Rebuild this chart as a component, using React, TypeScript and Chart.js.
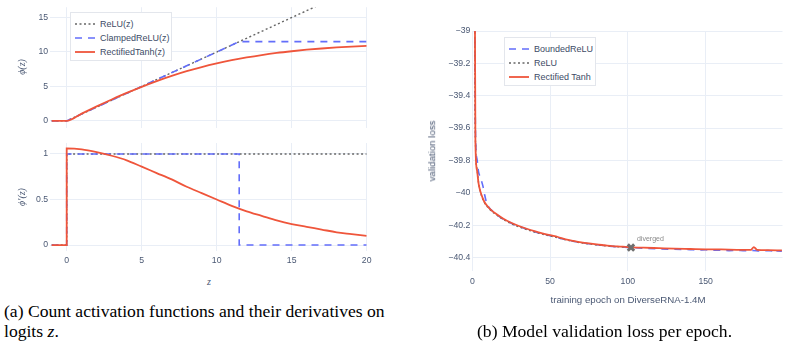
import React, { useEffect, useRef } from "react";
import { Chart, registerables } from "chart.js";

Chart.register(...registerables);

// ---------- (a) activation functions phi(z) ----------
const reluZ = [-1, 0, 20];
const reluPhi = [0, 0, 20];
const clampedZ = [-1, 0, 11.5, 20];
const clampedPhi = [0, 0, 11.5, 11.5];
const tanhZ = [-1, 0, 1, 2, 3, 4, 5, 6, 7, 8, 9, 10, 11, 12, 13, 14, 15, 16, 17, 18, 19, 20];
const tanhPhi = [0, 0, 1.06, 2.1, 3.1, 4.06, 4.95, 5.78, 6.53, 7.21, 7.81, 8.34, 8.81, 9.21, 9.56, 9.86, 10.11, 10.33, 10.51, 10.66, 10.79, 10.9];

// ---------- (a) derivatives phi'(z) ----------
const reluGradZ = [-1, 0, 0, 20];
const reluGrad = [0, 0, 1, 1];
const clampedGradZ = [-1, 0, 0, 11.5, 11.5, 20];
const clampedGrad = [0, 0, 1, 1, 0, 0];
const tanhGradZ = [-1, 0, 0, 1, 2, 3, 4, 5, 6, 7, 8, 9, 10, 11, 12, 13, 14, 15, 16, 17, 18, 19, 20];
const tanhGrad = [0, 0, 1.06, 1.05, 1.02, 0.98, 0.93, 0.86, 0.79, 0.72, 0.64, 0.57, 0.5, 0.43, 0.37, 0.32, 0.27, 0.23, 0.2, 0.17, 0.14, 0.12, 0.1];

const zTicks = [0, 5, 10, 15, 20];
const phiTicks = [0, 5, 10, 15];
const gradTicks = [0, 0.5, 1];

// ---------- (b) validation loss per epoch ----------
const epochsBounded = [1, 2, 3, 4, 5, 6, 7, 8, 9, 10, 12, 15, 20, 25, 30, 40, 50, 60, 70, 80, 90, 100, 110, 120, 130, 140, 145, 150, 155, 160, 165, 170, 175, 180, 185, 190, 193, 194, 196, 199];
const lossBounded = [-36.8, -39.6, -39.79, -39.87, -39.9, -39.93, -39.965, -40.015, -40.055, -40.08, -40.104, -40.13, -40.163, -40.188, -40.207, -40.24, -40.265, -40.289, -40.308, -40.321, -40.331, -40.337, -40.342, -40.346, -40.349, -40.351, -40.353, -40.352, -40.355, -40.354, -40.357, -40.355, -40.358, -40.356, -40.359, -40.357, -40.359, -40.346, -40.359, -40.36];

const epochsRelu = [1, 2, 3, 4, 5, 6, 7, 8, 10, 12, 15, 20, 25, 30, 35, 40, 45, 50, 55, 60, 65, 70, 75, 80, 85, 90, 95, 100, 102];
const lossRelu = [-37.2, -39.66, -39.85, -39.935, -39.985, -40.02, -40.045, -40.065, -40.09, -40.11, -40.133, -40.165, -40.19, -40.21, -40.227, -40.242, -40.255, -40.267, -40.278, -40.29, -40.3, -40.309, -40.316, -40.322, -40.327, -40.331, -40.334, -40.337, -40.338];

const epochsTanh = [1, 2, 3, 4, 5, 6, 7, 8, 10, 12, 15, 20, 25, 30, 35, 40, 45, 50, 55, 60, 65, 70, 75, 80, 85, 90, 95, 100, 110, 120, 130, 140, 150, 160, 170, 179, 181, 183, 190, 199];
const lossTanh = [-37.0, -39.68, -39.86, -39.94, -39.985, -40.015, -40.04, -40.06, -40.085, -40.105, -40.128, -40.16, -40.185, -40.205, -40.222, -40.237, -40.25, -40.262, -40.273, -40.287, -40.297, -40.306, -40.313, -40.319, -40.324, -40.329, -40.332, -40.335, -40.339, -40.342, -40.345, -40.347, -40.349, -40.35, -40.352, -40.353, -40.335, -40.352, -40.354, -40.356];

const divergedEpoch = [102];
const divergedLoss = [-40.338];

const epochTicks = [0, 50, 100, 150];
const lossTicks = [-39, -39.2, -39.4, -39.6, -39.8, -40, -40.2, -40.4];

// ---------- styling ----------
const BLUE = "#636efa";
const RED = "#ef553b";
const GRAY = "#666666";
const GRID = "#e9eef6";
const TICK = "#4a5873";
const SANS = '"Liberation Sans", Arial, sans-serif';
const SERIF = '"Liberation Serif", "Times New Roman", serif';
const FONT_SIZE = 8.7;

const pts = (xs: number[], ys: number[]) => xs.map((x, i) => ({ x, y: ys[i] }));

const fmt = (v: number) => {
  const s = String(Number(Math.abs(v).toFixed(2)));
  return v < 0 ? "\u2212" + s : s;
};

function fixedTicks(values: number[]) {
  return (scale: any) => {
    scale.ticks = values.map((value) => ({ value }));
  };
}

function axis(opts: {
  min: number;
  max: number;
  ticks: number[];
  size: number;
  horizontal: boolean;
  showLabels?: boolean;
  padding?: number;
}) {
  return {
    type: "linear",
    min: opts.min,
    max: opts.max,
    afterBuildTicks: fixedTicks(opts.ticks),
    afterFit: (s: any) => {
      if (opts.horizontal) s.height = opts.size;
      else s.width = opts.size;
    },
    border: { display: false },
    grid: { color: GRID, lineWidth: 1, drawTicks: false },
    ticks: {
      display: opts.showLabels !== false,
      color: TICK,
      font: { family: SANS, size: FONT_SIZE },
      padding: opts.padding ?? 2,
      maxRotation: 0,
      autoSkip: false,
      callback: (v: any) => fmt(Number(v)),
    },
  };
}

const baseOptions = {
  responsive: false,
  animation: false,
  devicePixelRatio: 1,
  events: [],
  plugins: { legend: { display: false }, tooltip: { enabled: false } },
  elements: { point: { radius: 0 } },
};

function line(
  data: { x: number; y: number }[],
  color: string,
  width: number,
  dash: number[],
  order: number,
  smooth = false
) {
  return {
    data,
    borderColor: color,
    backgroundColor: color,
    borderWidth: width,
    borderDash: dash,
    showLine: true,
    pointRadius: 0,
    tension: 0,
    cubicInterpolationMode: smooth ? "monotone" : "default",
    order,
  };
}

const divergedLabel = {
  id: "divergedLabel",
  afterDatasetsDraw(chart: any) {
    const { ctx, scales } = chart;
    const x = scales.x.getPixelForValue(divergedEpoch[0]);
    const y = scales.y.getPixelForValue(divergedLoss[0]);
    ctx.save();
    ctx.font = `7px ${SANS}`;
    ctx.fillStyle = "#8a8a8a";
    ctx.textAlign = "left";
    ctx.textBaseline = "middle";
    ctx.fillText("diverged", x + 6, y - 8);
    ctx.restore();
  },
};

function ChartCanvas({
  left,
  top,
  width,
  height,
  build,
}: {
  left: number;
  top: number;
  width: number;
  height: number;
  build: () => any;
}) {
  const ref = useRef<HTMLCanvasElement | null>(null);
  useEffect(() => {
    if (!ref.current) return;
    const chart = new Chart(ref.current, build());
    return () => chart.destroy();
  }, []);
  return (
    <canvas
      ref={ref}
      width={width}
      height={height}
      style={{ position: "absolute", left, top, width, height }}
    />
  );
}

type LegendItem = { label: string; color: string; dash: string; width: number };

function Legend({
  left,
  top,
  width,
  height,
  items,
}: {
  left: number;
  top: number;
  width: number;
  height: number;
  items: LegendItem[];
}) {
  return (
    <div
      style={{
        position: "absolute",
        left,
        top,
        width,
        height,
        boxSizing: "border-box",
        border: "1px solid #e3e6ec",
        background: "#ffffff",
      }}
    >
      {items.map((it, i) => (
        <div
          key={it.label}
          style={{
            position: "absolute",
            left: 3,
            top: 5 + i * 14,
            height: 12,
            display: "flex",
            alignItems: "center",
            whiteSpace: "nowrap",
          }}
        >
          <svg width={22} height={12} style={{ display: "block" }}>
            <line
              x1={1}
              y1={6}
              x2={21}
              y2={6}
              stroke={it.color}
              strokeWidth={it.width}
              strokeDasharray={it.dash}
            />
          </svg>
          <span
            style={{
              marginLeft: 4,
              fontFamily: SANS,
              fontSize: FONT_SIZE + 0.3,
              color: "#3d4b66",
              lineHeight: "12px",
            }}
          >
            {it.label}
          </span>
        </div>
      ))}
    </div>
  );
}

function Label({
  x,
  y,
  text,
  rotate = 0,
  style = {},
}: {
  x: number;
  y: number;
  text: React.ReactNode;
  rotate?: number;
  style?: React.CSSProperties;
}) {
  return (
    <div
      style={{
        position: "absolute",
        left: x,
        top: y,
        transform: `translate(-50%, -50%) rotate(${rotate}deg)`,
        whiteSpace: "nowrap",
        fontFamily: SANS,
        fontSize: FONT_SIZE + 0.5,
        color: "#4a5873",
        lineHeight: 1,
        ...style,
      }}
    >
      {text}
    </div>
  );
}

const buildPhi = () => ({
  type: "scatter",
  data: {
    datasets: [
      line(pts(tanhZ, tanhPhi), RED, 1.8, [], 0, true),
      line(pts(clampedZ, clampedPhi), BLUE, 1.6, [7, 6], 1),
      line(pts(reluZ, reluPhi), GRAY, 1.4, [2, 2.5], 2),
    ],
  },
  options: {
    ...baseOptions,
    layout: { padding: { left: 0, top: 5.5, right: 13.3, bottom: 0 } },
    scales: {
      x: axis({ min: -1.1, max: 20, ticks: zTicks, size: 7, horizontal: true, showLabels: false }),
      y: axis({ min: -1, max: 16.5, ticks: phiTicks, size: 50.2, horizontal: false }),
    },
  },
});

const buildGrad = () => ({
  type: "scatter",
  data: {
    datasets: [
      line(pts(tanhGradZ, tanhGrad), RED, 1.8, [], 0, true),
      line(pts(clampedGradZ, clampedGrad), BLUE, 1.6, [7, 6], 1),
      line(pts(reluGradZ, reluGrad), GRAY, 1.4, [2, 2.5], 2),
    ],
  },
  options: {
    ...baseOptions,
    layout: { padding: { left: 0, top: 8, right: 13.3, bottom: 0 } },
    scales: {
      x: axis({ min: -1.1, max: 20, ticks: zTicks, size: 24.5, horizontal: true, padding: 5 }),
      y: axis({ min: -0.06, max: 1.12, ticks: gradTicks, size: 50.2, horizontal: false }),
    },
  },
});

const buildLoss = () => ({
  type: "scatter",
  data: {
    datasets: [
      line(pts(epochsTanh, lossTanh), RED, 1.8, [], 0, true),
      line(pts(epochsRelu, lossRelu), GRAY, 1.4, [2, 2.5], 2, true),
      line(pts(epochsBounded, lossBounded), BLUE, 1.6, [7, 6], 3, true),
      {
        data: pts(divergedEpoch, divergedLoss),
        showLine: false,
        pointStyle: "crossRot",
        pointRadius: 4.5,
        borderWidth: 3,
        borderColor: "#6f6f6f",
        backgroundColor: "#6f6f6f",
        order: -1,
      },
    ],
  },
  plugins: [divergedLabel],
  options: {
    ...baseOptions,
    layout: { padding: { left: 0, top: 31, right: 7, bottom: 0 } },
    scales: {
      x: axis({ min: 0, max: 199.4, ticks: epochTicks, size: 29.5, horizontal: true, padding: 6 }),
      y: axis({ min: -40.48, max: -39, ticks: lossTicks, size: 72.3, horizontal: false }),
    },
  },
});

const captionStyle: React.CSSProperties = {
  position: "absolute",
  fontFamily: SERIF,
  fontSize: 17.6,
  color: "#000",
  whiteSpace: "nowrap",
  lineHeight: "20px",
};

const mathStyle: React.CSSProperties = { fontFamily: SERIF, fontStyle: "italic" };

export default function App() {
  return (
    <div
      style={{
        position: "fixed",
        left: 0,
        top: 0,
        width: 790,
        height: 348,
        background: "#ffffff",
        overflow: "hidden",
      }}
    >
      <ChartCanvas left={0} top={0} width={380} height={135} build={buildPhi} />
      <ChartCanvas left={0} top={135} width={380} height={140} build={buildGrad} />
      <ChartCanvas left={400} top={0} width={390} height={300} build={buildLoss} />

      <Legend
        left={70}
        top={12}
        width={102}
        height={49}
        items={[
          { label: "ReLU(z)", color: GRAY, dash: "2 2.5", width: 1.4 },
          { label: "ClampedReLU(z)", color: BLUE, dash: "7 6", width: 1.6 },
          { label: "RectifiedTanh(z)", color: RED, dash: "", width: 1.8 },
        ]}
      />
      <Legend
        left={504}
        top={37}
        width={92}
        height={49}
        items={[
          { label: "BoundedReLU", color: BLUE, dash: "7 6", width: 1.6 },
          { label: "ReLU", color: GRAY, dash: "2 2.5", width: 1.4 },
          { label: "Rectified Tanh", color: RED, dash: "", width: 1.8 },
        ]}
      />

      <Label x={22} y={67} rotate={-90} text={<span style={mathStyle}>ϕ(z)</span>} style={{ fontSize: 10 }} />
      <Label x={22} y={197} rotate={-90} text={<span style={mathStyle}>ϕ′(z)</span>} style={{ fontSize: 10 }} />
      <Label x={209} y={282} text={<span style={mathStyle}>z</span>} style={{ fontSize: 10 }} />
      <Label x={432} y={151} rotate={-90} text="validation loss" style={{ fontSize: FONT_SIZE + 1 }} />
      <Label x={628} y={300} text="training epoch on DiverseRNA-1.4M" style={{ fontSize: FONT_SIZE + 1 }} />

      <div style={{ ...captionStyle, left: 4, top: 301 }}>
        (a) Count activation functions and their derivatives on
        <br />
        logits <span style={{ fontStyle: "italic" }}>z</span>.
      </div>
      <div style={{ ...captionStyle, left: 477, top: 321 }}>
        (b) Model validation loss per epoch.
      </div>
    </div>
  );
}
